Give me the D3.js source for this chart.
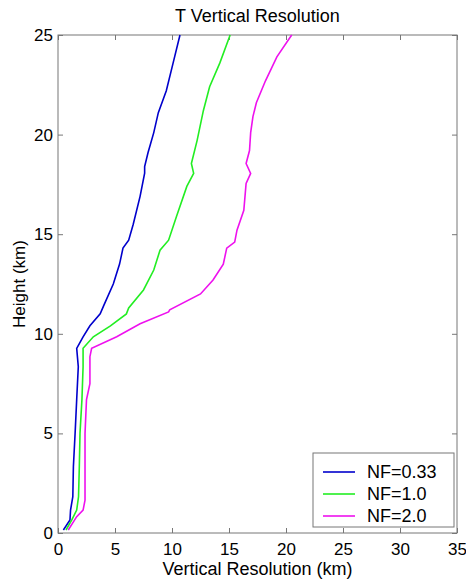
<!DOCTYPE html>
<html>
<head>
<meta charset="utf-8">
<script src="https://cdn.jsdelivr.net/npm/d3@7"></script>
<style>
  body { margin: 0; background: #fff; }
  text { font-family: "Liberation Sans", Arial, sans-serif; fill: #000; }
</style>
</head>
<body>
<svg width="466" height="581"></svg>
<script>
// height levels (km) and resolution (km) for each noise factor
var blueH = [0.15, 0.65, 1.15, 1.82, 3.33, 5.0, 6.7, 8.35, 9.27, 9.85, 10.4, 11.0, 11.4, 12.5, 13.5, 14.3, 14.7, 15.5, 16.9, 18.06, 18.4, 19.1, 20.1, 21.1, 22.2, 23.6, 25]
var blueX = [0.47, 1.05, 1.1, 1.3, 1.35, 1.5, 1.64, 1.78, 1.64, 2.2, 2.8, 3.7, 4.0, 4.85, 5.4, 5.7, 6.2, 6.6, 7.2, 7.6, 7.6, 7.9, 8.4, 8.8, 9.5, 10.1, 10.7]

var greenH = [0.15, 0.65, 1.15, 1.82, 3.33, 5.0, 6.7, 8.35, 9.27, 9.85, 10.4, 11.0, 11.3, 12.2, 13.2, 14.2, 14.7, 15.9, 17.4, 18.05, 18.55, 19.7, 21.2, 22.4, 23.6, 25]
var greenX = [0.7, 1.2, 1.64, 1.8, 1.87, 1.93, 2.1, 2.2, 2.2, 3.1, 4.6, 6.0, 6.2, 7.5, 8.4, 8.95, 9.7, 10.4, 11.3, 11.9, 11.7, 12.2, 12.75, 13.3, 14.2, 15.1]

var magH = [0.15, 0.82, 1.15, 1.65, 3.33, 5.0, 6.7, 7.5, 8.85, 9.27, 9.85, 10.5, 11.1, 11.2, 12.0, 12.7, 13.5, 14.3, 14.6, 15.2, 16.2, 17.55, 18.05, 18.55, 19.2, 20.1, 20.9, 21.6, 22.7, 23.9, 25]
var magX = [0.9, 1.64, 2.2, 2.37, 2.37, 2.37, 2.5, 2.8, 2.8, 2.95, 5.15, 7.2, 9.7, 9.8, 12.5, 13.6, 14.5, 14.8, 15.5, 15.7, 16.3, 16.5, 16.9, 16.5, 16.8, 16.9, 17.1, 17.4, 18.2, 19.2, 20.5]

var seriesNames = ['NF=0.33', 'NF=1.0', 'NF=2.0']
var seriesColors = ['#0000cc', '#22ee22', '#ee11ee']
var xTicks = [0, 5, 10, 15, 20, 25, 30, 35]
var yTicks = [0, 5, 10, 15, 20, 25]

var series = [
  { name: seriesNames[0], color: seriesColors[0], h: blueH, x: blueX },
  { name: seriesNames[1], color: seriesColors[1], h: greenH, x: greenX },
  { name: seriesNames[2], color: seriesColors[2], h: magH, x: magX }
]

var svg = d3.select("svg")
var padL = 58, padR = 457, padT = 35, padB = 533

var x = d3.scaleLinear().domain([0, 35]).range([padL, padR])
var y = d3.scaleLinear().domain([0, 25]).range([padB, padT])

var axisColor = '#777'

// frame
svg.append("rect")
  .attr("x", padL).attr("y", padT)
  .attr("width", padR - padL).attr("height", padB - padT)
  .attr("fill", "none").attr("stroke", axisColor).attr("stroke-width", 1)

// ticks, inside on all four sides
function styleAxis (g) {
  g.select(".domain").remove()
  g.selectAll(".tick line").attr("stroke", axisColor)
  g.selectAll(".tick text").style("font-size", "17px")
}

svg.append("g").attr("transform", `translate(0,${padB})`)
  .call(d3.axisBottom(x).tickValues(xTicks).tickSizeInner(-5).tickPadding(10))
  .call(styleAxis)
svg.append("g").attr("transform", `translate(0,${padT})`)
  .call(d3.axisTop(x).tickValues(xTicks).tickSizeInner(-5).tickFormat(""))
  .call(styleAxis)
svg.append("g").attr("transform", `translate(${padL},0)`)
  .call(d3.axisLeft(y).tickValues(yTicks).tickSizeInner(-5).tickPadding(5))
  .call(styleAxis)
svg.append("g").attr("transform", `translate(${padR},0)`)
  .call(d3.axisRight(y).tickValues(yTicks).tickSizeInner(-5).tickFormat(""))
  .call(styleAxis)

// curves
var line = d3.line()
  .x(function (d) { return x(d[0]) })
  .y(function (d) { return y(d[1]) })

series.forEach(function (s) {
  var pts = s.x.map(function (v, i) { return [v, s.h[i]] })
  svg.append("path")
    .attr("d", line(pts))
    .attr("fill", "none")
    .attr("stroke", s.color)
    .attr("stroke-width", 1.6)
})

// titles
svg.append("text")
  .attr("x", (padL + padR) / 2).attr("y", 22)
  .attr("text-anchor", "middle")
  .style("font-size", "18px")
  .text("T Vertical Resolution")

svg.append("text")
  .attr("x", (padL + padR) / 2).attr("y", 575)
  .attr("text-anchor", "middle")
  .style("font-size", "18px")
  .text("Vertical Resolution (km)")

svg.append("text")
  .attr("transform", `translate(25,${(padT + padB) / 2}) rotate(-90)`)
  .attr("text-anchor", "middle")
  .style("font-size", "17px")
  .text("Height (km)")

// legend
var legend = svg.append("g")
legend.append("rect")
  .attr("x", 313).attr("y", 453)
  .attr("width", 141).attr("height", 74)
  .attr("fill", "#fff").attr("stroke", axisColor)

series.forEach(function (s, i) {
  var ly = 472 + i * 22
  legend.append("line")
    .attr("x1", 323).attr("x2", 355)
    .attr("y1", ly).attr("y2", ly)
    .attr("stroke", s.color).attr("stroke-width", 1.6)
  legend.append("text")
    .attr("x", 367).attr("y", ly + 6)
    .style("font-size", "18px")
    .text(s.name)
})
</script>
</body>
</html>
